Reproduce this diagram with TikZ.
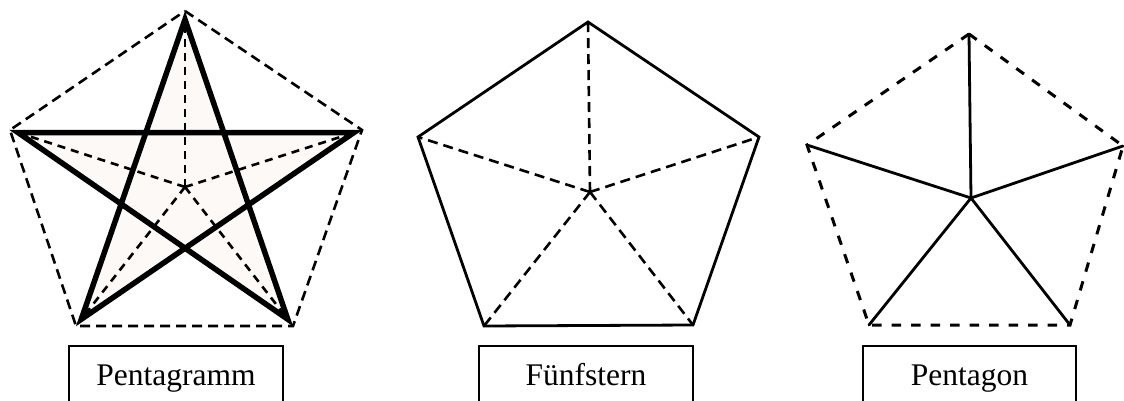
\documentclass[tikz,border=0pt]{standalone}
\usepackage{fontspec}
\setmainfont{Liberation Serif}
\usetikzlibrary{calc}
\definecolor{starfill}{RGB}{252,249,246}
\tikzset{
  dashline/.style={line width=2.6pt, dash pattern=on 10pt off 6pt, line cap=butt},
  widedash/.style={line width=3pt, dash pattern=on 9.5pt off 10pt, line cap=butt},
  solidline/.style={line width=2.8pt, line join=miter},
  starline/.style={line width=5.5pt, line join=miter, miter limit=20, fill=starfill},
  labelbox/.style={draw, line width=1.5pt, anchor=north, minimum height=66pt,
    text height=20pt, text depth=6pt, inner sep=0pt, font=\fontsize{31.5}{36}\selectfont},
}
\begin{document}
\begin{tikzpicture}[x=1pt,y=-1pt]
\useasboundingbox (0,0) rectangle (1124,401);
\clip (0,0) rectangle (1124,401);
% ---------- Pentagramm ----------
\coordinate (P1) at (185,11);
\coordinate (P2) at (10,130);
\coordinate (P3) at (362,130);
\coordinate (P4) at (293,326);
\coordinate (P5) at (76,326);
\coordinate (PC) at (185,187);
\foreach \i in {1,...,5} { \coordinate (S\i) at ($(P\i)!8.5pt!(PC)$); }
\draw[starline, draw=none] (S1) -- (S4) -- (S2) -- (S3) -- (S5) -- cycle;
\draw[dashline] (P1) -- (P3) -- (P4) -- (P5) -- (P2) -- cycle;
\foreach \i in {1,...,5} { \draw[dashline, dash pattern=on 8pt off 6pt] (PC) -- (S\i); }
\draw[starline, fill=none] (S1) -- (S4) -- (S2) -- (S3) -- (S5) -- cycle;
\node[labelbox, minimum width=214pt] (L1) at (176,345) {Pentagramm};
% ---------- Fünfstern ----------
\coordinate (A1) at (588,22);
\coordinate (A2) at (418,137);
\coordinate (A3) at (759,137);
\coordinate (A4) at (693,325);
\coordinate (A5) at (484,326);
\coordinate (AC) at (590,192);
\foreach \i in {1,...,5} { \draw[dashline] (AC) -- (A\i); }
\draw[solidline] (A1) -- (A3) -- (A4) -- (A5) -- (A2) -- cycle;
\node[labelbox, minimum width=214pt] (L2) at (586,345) {Fünfstern};
% ---------- Pentagon ----------
\coordinate (B1) at (969,34);
\coordinate (B2) at (807,145);
\coordinate (B3) at (1123,146);
\coordinate (B4) at (1070,325);
\coordinate (B5) at (869,325);
\coordinate (BC) at (971,198);
\draw[widedash] (B1) -- (B3) -- (B4) -- (B5) -- (B2) -- cycle;
\foreach \i in {1,...,5} { \draw[solidline, line cap=round] (BC) -- (B\i); }
\node[labelbox, minimum width=213pt] (L3) at (969.5,345) {Pentagon};
\end{tikzpicture}
\end{document}
